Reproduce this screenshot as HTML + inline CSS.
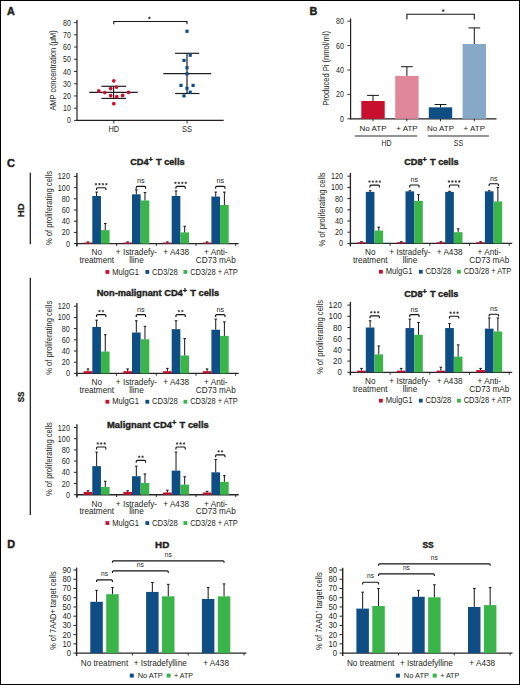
<!DOCTYPE html>
<html><head><meta charset="utf-8"><style>
html,body{margin:0;padding:0;background:#fff;}
body{width:520px;height:685px;overflow:hidden;}
svg{display:block;font-family:"Liberation Sans",sans-serif;}
</style></head><body>
<svg width="520" height="685" viewBox="0 0 520 685" fill="#231f20">
<rect x="0" y="0" width="520" height="685" fill="#fff"/>
<text x="7" y="14.7" font-size="10.8" font-weight="bold" stroke="#231f20" stroke-width="0.45">A</text>
<line x1="77" y1="19.8" x2="77" y2="120.9" stroke="#231f20" stroke-width="1.2"/>
<line x1="76.5" y1="120.4" x2="223.6" y2="120.4" stroke="#231f20" stroke-width="1.2"/>
<line x1="74" y1="120.4" x2="77" y2="120.4" stroke="#231f20" stroke-width="0.9"/>
<text transform="translate(70.8 123.4) scale(0.84 1)" font-size="8.4" text-anchor="end">0</text>
<line x1="74" y1="108.18" x2="77" y2="108.18" stroke="#231f20" stroke-width="0.9"/>
<text transform="translate(70.8 111.18) scale(0.84 1)" font-size="8.4" text-anchor="end">10</text>
<line x1="74" y1="95.95" x2="77" y2="95.95" stroke="#231f20" stroke-width="0.9"/>
<text transform="translate(70.8 98.95) scale(0.84 1)" font-size="8.4" text-anchor="end">20</text>
<line x1="74" y1="83.73" x2="77" y2="83.73" stroke="#231f20" stroke-width="0.9"/>
<text transform="translate(70.8 86.73) scale(0.84 1)" font-size="8.4" text-anchor="end">30</text>
<line x1="74" y1="71.5" x2="77" y2="71.5" stroke="#231f20" stroke-width="0.9"/>
<text transform="translate(70.8 74.5) scale(0.84 1)" font-size="8.4" text-anchor="end">40</text>
<line x1="74" y1="59.28" x2="77" y2="59.28" stroke="#231f20" stroke-width="0.9"/>
<text transform="translate(70.8 62.28) scale(0.84 1)" font-size="8.4" text-anchor="end">50</text>
<line x1="74" y1="47.05" x2="77" y2="47.05" stroke="#231f20" stroke-width="0.9"/>
<text transform="translate(70.8 50.05) scale(0.84 1)" font-size="8.4" text-anchor="end">60</text>
<line x1="74" y1="34.83" x2="77" y2="34.83" stroke="#231f20" stroke-width="0.9"/>
<text transform="translate(70.8 37.83) scale(0.84 1)" font-size="8.4" text-anchor="end">70</text>
<line x1="74" y1="22.6" x2="77" y2="22.6" stroke="#231f20" stroke-width="0.9"/>
<text transform="translate(70.8 25.6) scale(0.84 1)" font-size="8.4" text-anchor="end">80</text>
<line x1="113.8" y1="120.4" x2="113.8" y2="123.4" stroke="#231f20" stroke-width="0.9"/>
<text transform="translate(113.8 132.3) scale(0.88 1)" font-size="8.5" text-anchor="middle">HD</text>
<line x1="187" y1="120.4" x2="187" y2="123.4" stroke="#231f20" stroke-width="0.9"/>
<text transform="translate(187 132.3) scale(0.88 1)" font-size="8.5" text-anchor="middle">SS</text>
<text transform="translate(56.2 70.45) rotate(-90)" font-size="8.5" text-anchor="middle" textLength="80.3" lengthAdjust="spacingAndGlyphs">AMP concentration (μM)</text>
<path d="M113.8 24.2 L113.8 21.5 L187 21.5 L187 24.2" stroke="#151515" stroke-width="1.1" fill="none"/>
<polygon points="149.4,16.6 149.75,17.41 150.64,17.5 149.97,18.09 150.16,18.95 149.4,18.5 148.64,18.95 148.83,18.09 148.16,17.5 149.05,17.41" fill="#231f20" stroke="#231f20" stroke-width="0.35"/>
<line x1="89.2" y1="92.3" x2="137.8" y2="92.3" stroke="#1e1e1e" stroke-width="1.2"/>
<line x1="101.5" y1="86.3" x2="126" y2="86.3" stroke="#1e1e1e" stroke-width="1.2"/>
<line x1="101.5" y1="98.4" x2="126" y2="98.4" stroke="#1e1e1e" stroke-width="1.2"/>
<line x1="113.6" y1="86.3" x2="113.6" y2="98.4" stroke="#1e1e1e" stroke-width="1.2"/>
<circle cx="113.8" cy="80.8" r="1.85" fill="#c8102e"/>
<circle cx="116.6" cy="87.1" r="1.85" fill="#c8102e"/>
<circle cx="110.7" cy="88.6" r="1.85" fill="#c8102e"/>
<circle cx="98.8" cy="90.9" r="1.85" fill="#c8102e"/>
<circle cx="104.8" cy="92.6" r="1.85" fill="#c8102e"/>
<circle cx="128.5" cy="92.3" r="1.85" fill="#c8102e"/>
<circle cx="110.7" cy="95.6" r="1.85" fill="#c8102e"/>
<circle cx="116.7" cy="96.7" r="1.85" fill="#c8102e"/>
<circle cx="122.6" cy="95.4" r="1.85" fill="#c8102e"/>
<circle cx="113.8" cy="103.7" r="1.85" fill="#c8102e"/>
<line x1="163.3" y1="73.6" x2="211.2" y2="73.6" stroke="#1e1e1e" stroke-width="1.2"/>
<line x1="175.1" y1="53.3" x2="199.2" y2="53.3" stroke="#1e1e1e" stroke-width="1.2"/>
<line x1="175.1" y1="93.5" x2="199.4" y2="93.5" stroke="#1e1e1e" stroke-width="1.2"/>
<line x1="187" y1="53.3" x2="187" y2="93.5" stroke="#1e1e1e" stroke-width="1.2"/>
<rect x="185.4" y="29.7" width="3.2" height="3.2" fill="#0f4e85"/>
<rect x="188.6" y="53.6" width="3.2" height="3.2" fill="#0f4e85"/>
<rect x="182.4" y="58.8" width="3.2" height="3.2" fill="#0f4e85"/>
<rect x="185.4" y="66.1" width="3.2" height="3.2" fill="#0f4e85"/>
<rect x="185.4" y="72.2" width="3.2" height="3.2" fill="#0f4e85"/>
<rect x="179.4" y="83.8" width="3.2" height="3.2" fill="#0f4e85"/>
<rect x="191.5" y="83.8" width="3.2" height="3.2" fill="#0f4e85"/>
<rect x="185.4" y="86.7" width="3.2" height="3.2" fill="#0f4e85"/>
<rect x="188.6" y="90.6" width="3.2" height="3.2" fill="#0f4e85"/>
<rect x="182.4" y="94.3" width="3.2" height="3.2" fill="#0f4e85"/>
<text x="309.4" y="15.2" font-size="10.8" font-weight="bold" stroke="#231f20" stroke-width="0.45">B</text>
<line x1="350.6" y1="18.6" x2="350.6" y2="119.3" stroke="#231f20" stroke-width="1.2"/>
<line x1="350.1" y1="118.8" x2="496.5" y2="118.8" stroke="#231f20" stroke-width="1.2"/>
<line x1="347.4" y1="118.8" x2="350.6" y2="118.8" stroke="#231f20" stroke-width="0.9"/>
<text transform="translate(343.9 121.8) scale(0.84 1)" font-size="8.4" text-anchor="end">0</text>
<line x1="347.4" y1="94.4" x2="350.6" y2="94.4" stroke="#231f20" stroke-width="0.9"/>
<text transform="translate(343.9 97.4) scale(0.84 1)" font-size="8.4" text-anchor="end">20</text>
<line x1="347.4" y1="70" x2="350.6" y2="70" stroke="#231f20" stroke-width="0.9"/>
<text transform="translate(343.9 73) scale(0.84 1)" font-size="8.4" text-anchor="end">40</text>
<line x1="347.4" y1="45.6" x2="350.6" y2="45.6" stroke="#231f20" stroke-width="0.9"/>
<text transform="translate(343.9 48.6) scale(0.84 1)" font-size="8.4" text-anchor="end">60</text>
<line x1="347.4" y1="21.2" x2="350.6" y2="21.2" stroke="#231f20" stroke-width="0.9"/>
<text transform="translate(343.9 24.2) scale(0.84 1)" font-size="8.4" text-anchor="end">80</text>
<rect x="361.3" y="100.99" width="23.4" height="17.81" fill="#c8102e"/>
<line x1="373" y1="100.99" x2="373" y2="95.38" stroke="#151515" stroke-width="1"/>
<line x1="367.1" y1="95.38" x2="378.9" y2="95.38" stroke="#151515" stroke-width="1"/>
<line x1="373" y1="118.8" x2="373" y2="121.4" stroke="#231f20" stroke-width="0.9"/>
<rect x="395.2" y="75.86" width="23.4" height="42.94" fill="#e0889a"/>
<line x1="406.9" y1="75.86" x2="406.9" y2="66.71" stroke="#151515" stroke-width="1"/>
<line x1="401" y1="66.71" x2="412.8" y2="66.71" stroke="#151515" stroke-width="1"/>
<line x1="406.9" y1="118.8" x2="406.9" y2="121.4" stroke="#231f20" stroke-width="0.9"/>
<rect x="428.8" y="107.33" width="23.4" height="11.47" fill="#0f4e85"/>
<line x1="440.5" y1="107.33" x2="440.5" y2="104.53" stroke="#151515" stroke-width="1"/>
<line x1="434.6" y1="104.53" x2="446.4" y2="104.53" stroke="#151515" stroke-width="1"/>
<line x1="440.5" y1="118.8" x2="440.5" y2="121.4" stroke="#231f20" stroke-width="0.9"/>
<rect x="462.6" y="44.01" width="23.4" height="74.79" fill="#87a8c6"/>
<line x1="474.3" y1="44.01" x2="474.3" y2="27.91" stroke="#151515" stroke-width="1"/>
<line x1="468.4" y1="27.91" x2="480.2" y2="27.91" stroke="#151515" stroke-width="1"/>
<line x1="474.3" y1="118.8" x2="474.3" y2="121.4" stroke="#231f20" stroke-width="0.9"/>
<text x="373" y="130.5" font-size="8" text-anchor="middle">No ATP</text>
<text x="406.9" y="130.5" font-size="8" text-anchor="middle">+ ATP</text>
<text x="440.5" y="130.5" font-size="8" text-anchor="middle">No ATP</text>
<text x="474.3" y="130.5" font-size="8" text-anchor="middle">+ ATP</text>
<line x1="354.8" y1="136" x2="417.3" y2="136" stroke="#2a2a2a" stroke-width="1.1"/>
<line x1="427.7" y1="136" x2="488.8" y2="136" stroke="#2a2a2a" stroke-width="1.1"/>
<text transform="translate(386.4 145.9) scale(0.74 1)" font-size="9.4" text-anchor="middle">HD</text>
<text transform="translate(458.4 145.9) scale(0.74 1)" font-size="9.4" text-anchor="middle">SS</text>
<text transform="translate(329.4 68.4) rotate(-90)" font-size="8.3" text-anchor="middle" textLength="74.6" lengthAdjust="spacingAndGlyphs">Produced Pi (nmol/ml)</text>
<path d="M406.9 19.6 L406.9 14.3 L474.3 14.3 L474.3 19.6" stroke="#151515" stroke-width="1.1" fill="none"/>
<polygon points="443.2,9.3 443.55,10.11 444.44,10.2 443.77,10.79 443.96,11.65 443.2,11.2 442.44,11.65 442.63,10.79 441.96,10.2 442.85,10.11" fill="#231f20" stroke="#231f20" stroke-width="0.35"/>
<text x="7" y="166.8" font-size="11" font-weight="bold" textLength="8" lengthAdjust="spacingAndGlyphs" stroke="#231f20" stroke-width="0.45">C</text>
<text transform="translate(23.6 210.3) rotate(-90)" font-size="9.6" font-weight="bold" text-anchor="middle" stroke="#231f20" stroke-width="0.3">HD</text>
<line x1="30.3" y1="172.7" x2="30.3" y2="244.2" stroke="#111" stroke-width="1.2"/>
<text transform="translate(24.2 396.9) rotate(-90)" font-size="9.6" font-weight="bold" text-anchor="middle" textLength="10.8" lengthAdjust="spacingAndGlyphs" stroke="#231f20" stroke-width="0.3">SS</text>
<line x1="30.3" y1="277.8" x2="30.3" y2="515" stroke="#111" stroke-width="1.2"/>
<text transform="translate(157.4 164.95) scale(1.01 1)" font-size="9.1" font-weight="bold" text-anchor="middle" stroke="#231f20" stroke-width="0.4">CD4<tspan font-size="7.28" dy="-3.0">+</tspan><tspan dy="3.0" dx="0.6"> T cells</tspan></text>
<line x1="76.9" y1="173.1" x2="76.9" y2="246.6" stroke="#262626" stroke-width="1.35"/>
<line x1="76.4" y1="243.6" x2="238.7" y2="243.6" stroke="#262626" stroke-width="1.35"/>
<line x1="73.9" y1="243.6" x2="76.9" y2="243.6" stroke="#262626" stroke-width="1"/>
<text transform="translate(69.9 246.6) scale(0.84 1)" font-size="8.6" text-anchor="end">0</text>
<line x1="73.9" y1="232.4" x2="76.9" y2="232.4" stroke="#262626" stroke-width="1"/>
<text transform="translate(69.9 235.4) scale(0.84 1)" font-size="8.6" text-anchor="end">20</text>
<line x1="73.9" y1="221.2" x2="76.9" y2="221.2" stroke="#262626" stroke-width="1"/>
<text transform="translate(69.9 224.2) scale(0.84 1)" font-size="8.6" text-anchor="end">40</text>
<line x1="73.9" y1="210" x2="76.9" y2="210" stroke="#262626" stroke-width="1"/>
<text transform="translate(69.9 213) scale(0.84 1)" font-size="8.6" text-anchor="end">60</text>
<line x1="73.9" y1="198.8" x2="76.9" y2="198.8" stroke="#262626" stroke-width="1"/>
<text transform="translate(69.9 201.8) scale(0.84 1)" font-size="8.6" text-anchor="end">80</text>
<line x1="73.9" y1="187.6" x2="76.9" y2="187.6" stroke="#262626" stroke-width="1"/>
<text transform="translate(69.9 190.6) scale(0.84 1)" font-size="8.6" text-anchor="end">100</text>
<line x1="73.9" y1="176.4" x2="76.9" y2="176.4" stroke="#262626" stroke-width="1"/>
<text transform="translate(69.9 179.4) scale(0.84 1)" font-size="8.6" text-anchor="end">120</text>
<line x1="76.9" y1="243.6" x2="76.9" y2="246" stroke="#231f20" stroke-width="0.9"/>
<line x1="116.6" y1="243.6" x2="116.6" y2="246" stroke="#231f20" stroke-width="0.9"/>
<line x1="156.3" y1="243.6" x2="156.3" y2="246" stroke="#231f20" stroke-width="0.9"/>
<line x1="196" y1="243.6" x2="196" y2="246" stroke="#231f20" stroke-width="0.9"/>
<line x1="235.7" y1="243.6" x2="235.7" y2="246" stroke="#231f20" stroke-width="0.9"/>
<text transform="translate(52.1 208) rotate(-90)" font-size="8.6" text-anchor="middle" textLength="74" lengthAdjust="spacingAndGlyphs">% of proliferating cells</text>
<text x="96.75" y="255.4" font-size="8.2" text-anchor="middle">No</text>
<text x="96.75" y="262.9" font-size="8.2" text-anchor="middle">treatment</text>
<rect x="83.65" y="242.48" width="8.65" height="1.12" fill="#c8102e"/>
<rect x="92.3" y="196" width="8.65" height="47.6" fill="#0f4e85"/>
<rect x="100.95" y="230.16" width="8.65" height="13.44" fill="#3bb54a"/>
<line x1="87.98" y1="242.48" x2="87.98" y2="241.92" stroke="#151515" stroke-width="1"/>
<line x1="86.68" y1="241.92" x2="89.28" y2="241.92" stroke="#151515" stroke-width="1"/>
<line x1="96.63" y1="196" x2="96.63" y2="192.08" stroke="#151515" stroke-width="1"/>
<line x1="95.33" y1="192.08" x2="97.93" y2="192.08" stroke="#151515" stroke-width="1"/>
<line x1="105.28" y1="230.16" x2="105.28" y2="223.44" stroke="#151515" stroke-width="1"/>
<line x1="103.98" y1="223.44" x2="106.58" y2="223.44" stroke="#151515" stroke-width="1"/>
<path d="M96.53 190.1 L96.53 188.7 Q96.53 187.7 97.53 187.7 L104.88 187.7 Q105.88 187.7 105.88 188.7 L105.88 190.1" stroke="#151515" stroke-width="1.15" fill="none"/>
<polygon points="96.03,183 96.32,183.8 97.17,183.83 96.5,184.35 96.73,185.17 96.03,184.7 95.32,185.17 95.55,184.35 94.88,183.83 95.73,183.8" fill="#231f20" stroke="#231f20" stroke-width="0.35"/>
<polygon points="99.48,183 99.77,183.8 100.62,183.83 99.95,184.35 100.18,185.17 99.48,184.7 98.77,185.17 99,184.35 98.33,183.83 99.18,183.8" fill="#231f20" stroke="#231f20" stroke-width="0.35"/>
<polygon points="102.93,183 103.22,183.8 104.07,183.83 103.4,184.35 103.63,185.17 102.93,184.7 102.22,185.17 102.45,184.35 101.78,183.83 102.63,183.8" fill="#231f20" stroke="#231f20" stroke-width="0.35"/>
<polygon points="106.38,183 106.67,183.8 107.52,183.83 106.85,184.35 107.08,185.17 106.38,184.7 105.67,185.17 105.9,184.35 105.23,183.83 106.08,183.8" fill="#231f20" stroke="#231f20" stroke-width="0.35"/>
<text x="136.45" y="255.4" font-size="8.2" text-anchor="middle">+ Istradefy-</text>
<text x="136.45" y="262.9" font-size="8.2" text-anchor="middle">lline</text>
<rect x="123.35" y="242.48" width="8.65" height="1.12" fill="#c8102e"/>
<rect x="132" y="194.32" width="8.65" height="49.28" fill="#0f4e85"/>
<rect x="140.65" y="200.48" width="8.65" height="43.12" fill="#3bb54a"/>
<line x1="127.68" y1="242.48" x2="127.68" y2="241.92" stroke="#151515" stroke-width="1"/>
<line x1="126.38" y1="241.92" x2="128.98" y2="241.92" stroke="#151515" stroke-width="1"/>
<line x1="136.32" y1="194.32" x2="136.32" y2="189.84" stroke="#151515" stroke-width="1"/>
<line x1="135.02" y1="189.84" x2="137.62" y2="189.84" stroke="#151515" stroke-width="1"/>
<line x1="144.97" y1="200.48" x2="144.97" y2="192.64" stroke="#151515" stroke-width="1"/>
<line x1="143.67" y1="192.64" x2="146.28" y2="192.64" stroke="#151515" stroke-width="1"/>
<path d="M136.23 188.8 L136.23 187.4 Q136.23 186.4 137.23 186.4 L144.58 186.4 Q145.58 186.4 145.58 187.4 L145.58 188.8" stroke="#151515" stroke-width="1.15" fill="none"/>
<text x="140.9" y="183.3" font-size="7.9" text-anchor="middle" textLength="7.6" lengthAdjust="spacingAndGlyphs">ns</text>
<text x="176.15" y="255.4" font-size="8.2" text-anchor="middle">+ A438</text>
<rect x="163.05" y="242.48" width="8.65" height="1.12" fill="#c8102e"/>
<rect x="171.7" y="196" width="8.65" height="47.6" fill="#0f4e85"/>
<rect x="180.35" y="232.4" width="8.65" height="11.2" fill="#3bb54a"/>
<line x1="167.38" y1="242.48" x2="167.38" y2="241.92" stroke="#151515" stroke-width="1"/>
<line x1="166.07" y1="241.92" x2="168.68" y2="241.92" stroke="#151515" stroke-width="1"/>
<line x1="176.03" y1="196" x2="176.03" y2="190.96" stroke="#151515" stroke-width="1"/>
<line x1="174.72" y1="190.96" x2="177.33" y2="190.96" stroke="#151515" stroke-width="1"/>
<line x1="184.68" y1="232.4" x2="184.68" y2="226.24" stroke="#151515" stroke-width="1"/>
<line x1="183.38" y1="226.24" x2="185.98" y2="226.24" stroke="#151515" stroke-width="1"/>
<path d="M175.93 188.8 L175.93 187.4 Q175.93 186.4 176.93 186.4 L184.28 186.4 Q185.28 186.4 185.28 187.4 L185.28 188.8" stroke="#151515" stroke-width="1.15" fill="none"/>
<polygon points="175.43,181.7 175.72,182.5 176.57,182.53 175.9,183.05 176.13,183.87 175.43,183.4 174.72,183.87 174.95,183.05 174.28,182.53 175.13,182.5" fill="#231f20" stroke="#231f20" stroke-width="0.35"/>
<polygon points="178.88,181.7 179.17,182.5 180.02,182.53 179.35,183.05 179.58,183.87 178.88,183.4 178.17,183.87 178.4,183.05 177.73,182.53 178.58,182.5" fill="#231f20" stroke="#231f20" stroke-width="0.35"/>
<polygon points="182.33,181.7 182.62,182.5 183.47,182.53 182.8,183.05 183.03,183.87 182.33,183.4 181.62,183.87 181.85,183.05 181.18,182.53 182.03,182.5" fill="#231f20" stroke="#231f20" stroke-width="0.35"/>
<polygon points="185.78,181.7 186.07,182.5 186.92,182.53 186.25,183.05 186.48,183.87 185.78,183.4 185.07,183.87 185.3,183.05 184.63,182.53 185.48,182.5" fill="#231f20" stroke="#231f20" stroke-width="0.35"/>
<text x="215.85" y="255.4" font-size="8.2" text-anchor="middle">+ Anti-</text>
<text x="215.85" y="262.9" font-size="8.2" text-anchor="middle">CD73 mAb</text>
<rect x="202.75" y="242.48" width="8.65" height="1.12" fill="#c8102e"/>
<rect x="211.4" y="196.56" width="8.65" height="47.04" fill="#0f4e85"/>
<rect x="220.05" y="204.96" width="8.65" height="38.64" fill="#3bb54a"/>
<line x1="207.07" y1="242.48" x2="207.07" y2="241.92" stroke="#151515" stroke-width="1"/>
<line x1="205.77" y1="241.92" x2="208.38" y2="241.92" stroke="#151515" stroke-width="1"/>
<line x1="215.72" y1="196.56" x2="215.72" y2="192.08" stroke="#151515" stroke-width="1"/>
<line x1="214.42" y1="192.08" x2="217.03" y2="192.08" stroke="#151515" stroke-width="1"/>
<line x1="224.38" y1="204.96" x2="224.38" y2="192.08" stroke="#151515" stroke-width="1"/>
<line x1="223.07" y1="192.08" x2="225.68" y2="192.08" stroke="#151515" stroke-width="1"/>
<path d="M215.62 188.8 L215.62 187.4 Q215.62 186.4 216.62 186.4 L223.97 186.4 Q224.97 186.4 224.97 187.4 L224.97 188.8" stroke="#151515" stroke-width="1.15" fill="none"/>
<text x="220.3" y="183.3" font-size="7.9" text-anchor="middle" textLength="7.6" lengthAdjust="spacingAndGlyphs">ns</text>
<rect x="105.5" y="270.05" width="3.8" height="3.8" fill="#c8102e"/>
<text x="112.3" y="274.5" font-size="8.2" textLength="26.6" lengthAdjust="spacingAndGlyphs">MulgG1</text>
<rect x="145.4" y="270.05" width="3.8" height="3.8" fill="#0f4e85"/>
<text x="151.9" y="274.5" font-size="8.2" textLength="26" lengthAdjust="spacingAndGlyphs">CD3/28</text>
<rect x="183.5" y="270.05" width="3.8" height="3.8" fill="#3bb54a"/>
<text x="190.2" y="274.5" font-size="8.2" textLength="47.7" lengthAdjust="spacingAndGlyphs">CD3/28 + ATP</text>
<text transform="translate(431.4 165.15) scale(1.01 1)" font-size="9.1" font-weight="bold" text-anchor="middle" stroke="#231f20" stroke-width="0.4">CD8<tspan font-size="7.28" dy="-3.0">+</tspan><tspan dy="3.0" dx="0.6"> T cells</tspan></text>
<line x1="350.4" y1="172.9" x2="350.4" y2="246.4" stroke="#262626" stroke-width="1.35"/>
<line x1="349.9" y1="243.4" x2="512.2" y2="243.4" stroke="#262626" stroke-width="1.35"/>
<line x1="347.4" y1="243.4" x2="350.4" y2="243.4" stroke="#262626" stroke-width="1"/>
<text transform="translate(343.1 246.4) scale(0.84 1)" font-size="8.6" text-anchor="end">0</text>
<line x1="347.4" y1="232.2" x2="350.4" y2="232.2" stroke="#262626" stroke-width="1"/>
<text transform="translate(343.1 235.2) scale(0.84 1)" font-size="8.6" text-anchor="end">20</text>
<line x1="347.4" y1="221" x2="350.4" y2="221" stroke="#262626" stroke-width="1"/>
<text transform="translate(343.1 224) scale(0.84 1)" font-size="8.6" text-anchor="end">40</text>
<line x1="347.4" y1="209.8" x2="350.4" y2="209.8" stroke="#262626" stroke-width="1"/>
<text transform="translate(343.1 212.8) scale(0.84 1)" font-size="8.6" text-anchor="end">60</text>
<line x1="347.4" y1="198.6" x2="350.4" y2="198.6" stroke="#262626" stroke-width="1"/>
<text transform="translate(343.1 201.6) scale(0.84 1)" font-size="8.6" text-anchor="end">80</text>
<line x1="347.4" y1="187.4" x2="350.4" y2="187.4" stroke="#262626" stroke-width="1"/>
<text transform="translate(343.1 190.4) scale(0.84 1)" font-size="8.6" text-anchor="end">100</text>
<line x1="347.4" y1="176.2" x2="350.4" y2="176.2" stroke="#262626" stroke-width="1"/>
<text transform="translate(343.1 179.2) scale(0.84 1)" font-size="8.6" text-anchor="end">120</text>
<line x1="350.4" y1="243.4" x2="350.4" y2="245.8" stroke="#231f20" stroke-width="0.9"/>
<line x1="390.1" y1="243.4" x2="390.1" y2="245.8" stroke="#231f20" stroke-width="0.9"/>
<line x1="429.8" y1="243.4" x2="429.8" y2="245.8" stroke="#231f20" stroke-width="0.9"/>
<line x1="469.5" y1="243.4" x2="469.5" y2="245.8" stroke="#231f20" stroke-width="0.9"/>
<line x1="509.2" y1="243.4" x2="509.2" y2="245.8" stroke="#231f20" stroke-width="0.9"/>
<text transform="translate(324.6 209.4) rotate(-90)" font-size="8.6" text-anchor="middle" textLength="74" lengthAdjust="spacingAndGlyphs">% of proliferating cells</text>
<text x="370.25" y="255.2" font-size="8.2" text-anchor="middle">No</text>
<text x="370.25" y="262.7" font-size="8.2" text-anchor="middle">treatment</text>
<rect x="357.15" y="242.28" width="8.65" height="1.12" fill="#c8102e"/>
<rect x="365.8" y="191.88" width="8.65" height="51.52" fill="#0f4e85"/>
<rect x="374.45" y="230.52" width="8.65" height="12.88" fill="#3bb54a"/>
<line x1="361.47" y1="242.28" x2="361.47" y2="241.72" stroke="#151515" stroke-width="1"/>
<line x1="360.17" y1="241.72" x2="362.77" y2="241.72" stroke="#151515" stroke-width="1"/>
<line x1="370.12" y1="191.88" x2="370.12" y2="190.76" stroke="#151515" stroke-width="1"/>
<line x1="368.82" y1="190.76" x2="371.42" y2="190.76" stroke="#151515" stroke-width="1"/>
<line x1="378.77" y1="230.52" x2="378.77" y2="227.16" stroke="#151515" stroke-width="1"/>
<line x1="377.47" y1="227.16" x2="380.07" y2="227.16" stroke="#151515" stroke-width="1"/>
<path d="M370.02 187.5 L370.02 186.1 Q370.02 185.1 371.02 185.1 L378.38 185.1 Q379.38 185.1 379.38 186.1 L379.38 187.5" stroke="#151515" stroke-width="1.15" fill="none"/>
<polygon points="369.52,180.4 369.82,181.2 370.67,181.23 370,181.75 370.23,182.57 369.52,182.1 368.82,182.57 369.05,181.75 368.38,181.23 369.23,181.2" fill="#231f20" stroke="#231f20" stroke-width="0.35"/>
<polygon points="372.97,180.4 373.27,181.2 374.12,181.23 373.45,181.75 373.68,182.57 372.97,182.1 372.27,182.57 372.5,181.75 371.83,181.23 372.68,181.2" fill="#231f20" stroke="#231f20" stroke-width="0.35"/>
<polygon points="376.42,180.4 376.72,181.2 377.57,181.23 376.9,181.75 377.13,182.57 376.42,182.1 375.72,182.57 375.95,181.75 375.28,181.23 376.13,181.2" fill="#231f20" stroke="#231f20" stroke-width="0.35"/>
<polygon points="379.88,180.4 380.17,181.2 381.02,181.23 380.35,181.75 380.58,182.57 379.88,182.1 379.17,182.57 379.4,181.75 378.73,181.23 379.58,181.2" fill="#231f20" stroke="#231f20" stroke-width="0.35"/>
<text x="409.95" y="255.2" font-size="8.2" text-anchor="middle">+ Istradefy-</text>
<text x="409.95" y="262.7" font-size="8.2" text-anchor="middle">lline</text>
<rect x="396.85" y="242.28" width="8.65" height="1.12" fill="#c8102e"/>
<rect x="405.5" y="191.32" width="8.65" height="52.08" fill="#0f4e85"/>
<rect x="414.15" y="200.84" width="8.65" height="42.56" fill="#3bb54a"/>
<line x1="401.17" y1="242.28" x2="401.17" y2="241.72" stroke="#151515" stroke-width="1"/>
<line x1="399.87" y1="241.72" x2="402.47" y2="241.72" stroke="#151515" stroke-width="1"/>
<line x1="409.82" y1="191.32" x2="409.82" y2="190.76" stroke="#151515" stroke-width="1"/>
<line x1="408.52" y1="190.76" x2="411.12" y2="190.76" stroke="#151515" stroke-width="1"/>
<line x1="418.47" y1="200.84" x2="418.47" y2="194.68" stroke="#151515" stroke-width="1"/>
<line x1="417.17" y1="194.68" x2="419.77" y2="194.68" stroke="#151515" stroke-width="1"/>
<path d="M409.72 187.4 L409.72 186 Q409.72 185 410.72 185 L418.07 185 Q419.07 185 419.07 186 L419.07 187.4" stroke="#151515" stroke-width="1.15" fill="none"/>
<text x="414.4" y="181.9" font-size="7.9" text-anchor="middle" textLength="7.6" lengthAdjust="spacingAndGlyphs">ns</text>
<text x="449.65" y="255.2" font-size="8.2" text-anchor="middle">+ A438</text>
<rect x="436.55" y="242.28" width="8.65" height="1.12" fill="#c8102e"/>
<rect x="445.2" y="191.88" width="8.65" height="51.52" fill="#0f4e85"/>
<rect x="453.85" y="232.2" width="8.65" height="11.2" fill="#3bb54a"/>
<line x1="440.87" y1="242.28" x2="440.87" y2="241.72" stroke="#151515" stroke-width="1"/>
<line x1="439.57" y1="241.72" x2="442.17" y2="241.72" stroke="#151515" stroke-width="1"/>
<line x1="449.52" y1="191.88" x2="449.52" y2="191.32" stroke="#151515" stroke-width="1"/>
<line x1="448.22" y1="191.32" x2="450.82" y2="191.32" stroke="#151515" stroke-width="1"/>
<line x1="458.17" y1="232.2" x2="458.17" y2="228.84" stroke="#151515" stroke-width="1"/>
<line x1="456.87" y1="228.84" x2="459.47" y2="228.84" stroke="#151515" stroke-width="1"/>
<path d="M449.42 187.4 L449.42 186 Q449.42 185 450.42 185 L457.77 185 Q458.77 185 458.77 186 L458.77 187.4" stroke="#151515" stroke-width="1.15" fill="none"/>
<polygon points="448.92,180.3 449.22,181.1 450.07,181.13 449.4,181.65 449.63,182.47 448.92,182 448.22,182.47 448.45,181.65 447.78,181.13 448.63,181.1" fill="#231f20" stroke="#231f20" stroke-width="0.35"/>
<polygon points="452.37,180.3 452.67,181.1 453.52,181.13 452.85,181.65 453.08,182.47 452.37,182 451.67,182.47 451.9,181.65 451.23,181.13 452.08,181.1" fill="#231f20" stroke="#231f20" stroke-width="0.35"/>
<polygon points="455.82,180.3 456.12,181.1 456.97,181.13 456.3,181.65 456.53,182.47 455.82,182 455.12,182.47 455.35,181.65 454.68,181.13 455.53,181.1" fill="#231f20" stroke="#231f20" stroke-width="0.35"/>
<polygon points="459.27,180.3 459.57,181.1 460.42,181.13 459.75,181.65 459.98,182.47 459.27,182 458.57,182.47 458.8,181.65 458.13,181.13 458.98,181.1" fill="#231f20" stroke="#231f20" stroke-width="0.35"/>
<text x="489.35" y="255.2" font-size="8.2" text-anchor="middle">+ Anti-</text>
<text x="489.35" y="262.7" font-size="8.2" text-anchor="middle">CD73 mAb</text>
<rect x="476.25" y="242.28" width="8.65" height="1.12" fill="#c8102e"/>
<rect x="484.9" y="191.32" width="8.65" height="52.08" fill="#0f4e85"/>
<rect x="493.55" y="201.4" width="8.65" height="42" fill="#3bb54a"/>
<line x1="480.57" y1="242.28" x2="480.57" y2="241.72" stroke="#151515" stroke-width="1"/>
<line x1="479.27" y1="241.72" x2="481.88" y2="241.72" stroke="#151515" stroke-width="1"/>
<line x1="489.22" y1="191.32" x2="489.22" y2="190.76" stroke="#151515" stroke-width="1"/>
<line x1="487.92" y1="190.76" x2="490.52" y2="190.76" stroke="#151515" stroke-width="1"/>
<line x1="497.87" y1="201.4" x2="497.87" y2="187.4" stroke="#151515" stroke-width="1"/>
<line x1="496.57" y1="187.4" x2="499.17" y2="187.4" stroke="#151515" stroke-width="1"/>
<path d="M489.12 186.1 L489.12 184.7 Q489.12 183.7 490.12 183.7 L497.48 183.7 Q498.48 183.7 498.48 184.7 L498.48 186.1" stroke="#151515" stroke-width="1.15" fill="none"/>
<text x="493.8" y="180.6" font-size="7.9" text-anchor="middle" textLength="7.6" lengthAdjust="spacingAndGlyphs">ns</text>
<rect x="379" y="269.85" width="3.8" height="3.8" fill="#c8102e"/>
<text x="385.8" y="274.3" font-size="8.2" textLength="26.6" lengthAdjust="spacingAndGlyphs">MulgG1</text>
<rect x="418.9" y="269.85" width="3.8" height="3.8" fill="#0f4e85"/>
<text x="425.4" y="274.3" font-size="8.2" textLength="26" lengthAdjust="spacingAndGlyphs">CD3/28</text>
<rect x="457" y="269.85" width="3.8" height="3.8" fill="#3bb54a"/>
<text x="463.7" y="274.3" font-size="8.2" textLength="47.7" lengthAdjust="spacingAndGlyphs">CD3/28 + ATP</text>
<text transform="translate(157.9 296.15) scale(1.02 1)" font-size="9.1" font-weight="bold" text-anchor="middle" stroke="#231f20" stroke-width="0.4">Non-malignant CD4<tspan font-size="7.28" dy="-3.0">+</tspan><tspan dy="3.0" dx="0.6"> T cells</tspan></text>
<line x1="76.9" y1="302.9" x2="76.9" y2="376.4" stroke="#262626" stroke-width="1.35"/>
<line x1="76.4" y1="373.4" x2="238.7" y2="373.4" stroke="#262626" stroke-width="1.35"/>
<line x1="73.9" y1="373.4" x2="76.9" y2="373.4" stroke="#262626" stroke-width="1"/>
<text transform="translate(69.9 376.4) scale(0.84 1)" font-size="8.6" text-anchor="end">0</text>
<line x1="73.9" y1="362.2" x2="76.9" y2="362.2" stroke="#262626" stroke-width="1"/>
<text transform="translate(69.9 365.2) scale(0.84 1)" font-size="8.6" text-anchor="end">20</text>
<line x1="73.9" y1="351" x2="76.9" y2="351" stroke="#262626" stroke-width="1"/>
<text transform="translate(69.9 354) scale(0.84 1)" font-size="8.6" text-anchor="end">40</text>
<line x1="73.9" y1="339.8" x2="76.9" y2="339.8" stroke="#262626" stroke-width="1"/>
<text transform="translate(69.9 342.8) scale(0.84 1)" font-size="8.6" text-anchor="end">60</text>
<line x1="73.9" y1="328.6" x2="76.9" y2="328.6" stroke="#262626" stroke-width="1"/>
<text transform="translate(69.9 331.6) scale(0.84 1)" font-size="8.6" text-anchor="end">80</text>
<line x1="73.9" y1="317.4" x2="76.9" y2="317.4" stroke="#262626" stroke-width="1"/>
<text transform="translate(69.9 320.4) scale(0.84 1)" font-size="8.6" text-anchor="end">100</text>
<line x1="73.9" y1="306.2" x2="76.9" y2="306.2" stroke="#262626" stroke-width="1"/>
<text transform="translate(69.9 309.2) scale(0.84 1)" font-size="8.6" text-anchor="end">120</text>
<line x1="76.9" y1="373.4" x2="76.9" y2="375.8" stroke="#231f20" stroke-width="0.9"/>
<line x1="116.6" y1="373.4" x2="116.6" y2="375.8" stroke="#231f20" stroke-width="0.9"/>
<line x1="156.3" y1="373.4" x2="156.3" y2="375.8" stroke="#231f20" stroke-width="0.9"/>
<line x1="196" y1="373.4" x2="196" y2="375.8" stroke="#231f20" stroke-width="0.9"/>
<line x1="235.7" y1="373.4" x2="235.7" y2="375.8" stroke="#231f20" stroke-width="0.9"/>
<text transform="translate(52.1 337.8) rotate(-90)" font-size="8.6" text-anchor="middle" textLength="74" lengthAdjust="spacingAndGlyphs">% of proliferating cells</text>
<text x="96.75" y="385.2" font-size="8.2" text-anchor="middle">No</text>
<text x="96.75" y="392.7" font-size="8.2" text-anchor="middle">treatment</text>
<rect x="83.65" y="371.16" width="8.65" height="2.24" fill="#c8102e"/>
<rect x="92.3" y="326.92" width="8.65" height="46.48" fill="#0f4e85"/>
<rect x="100.95" y="351.56" width="8.65" height="21.84" fill="#3bb54a"/>
<line x1="87.98" y1="371.16" x2="87.98" y2="368.92" stroke="#151515" stroke-width="1"/>
<line x1="86.68" y1="368.92" x2="89.28" y2="368.92" stroke="#151515" stroke-width="1"/>
<line x1="96.63" y1="326.92" x2="96.63" y2="320.2" stroke="#151515" stroke-width="1"/>
<line x1="95.33" y1="320.2" x2="97.93" y2="320.2" stroke="#151515" stroke-width="1"/>
<line x1="105.28" y1="351.56" x2="105.28" y2="334.76" stroke="#151515" stroke-width="1"/>
<line x1="103.98" y1="334.76" x2="106.58" y2="334.76" stroke="#151515" stroke-width="1"/>
<path d="M96.53 317 L96.53 315.6 Q96.53 314.6 97.53 314.6 L104.88 314.6 Q105.88 314.6 105.88 315.6 L105.88 317" stroke="#151515" stroke-width="1.15" fill="none"/>
<polygon points="99.48,309.9 99.77,310.7 100.62,310.73 99.95,311.25 100.18,312.07 99.48,311.6 98.77,312.07 99,311.25 98.33,310.73 99.18,310.7" fill="#231f20" stroke="#231f20" stroke-width="0.35"/>
<polygon points="102.93,309.9 103.22,310.7 104.07,310.73 103.4,311.25 103.63,312.07 102.93,311.6 102.22,312.07 102.45,311.25 101.78,310.73 102.63,310.7" fill="#231f20" stroke="#231f20" stroke-width="0.35"/>
<text x="136.45" y="385.2" font-size="8.2" text-anchor="middle">+ Istradefy-</text>
<text x="136.45" y="392.7" font-size="8.2" text-anchor="middle">lline</text>
<rect x="123.35" y="371.16" width="8.65" height="2.24" fill="#c8102e"/>
<rect x="132" y="332.52" width="8.65" height="40.88" fill="#0f4e85"/>
<rect x="140.65" y="339.24" width="8.65" height="34.16" fill="#3bb54a"/>
<line x1="127.68" y1="371.16" x2="127.68" y2="368.92" stroke="#151515" stroke-width="1"/>
<line x1="126.38" y1="368.92" x2="128.98" y2="368.92" stroke="#151515" stroke-width="1"/>
<line x1="136.32" y1="332.52" x2="136.32" y2="320.76" stroke="#151515" stroke-width="1"/>
<line x1="135.02" y1="320.76" x2="137.62" y2="320.76" stroke="#151515" stroke-width="1"/>
<line x1="144.97" y1="339.24" x2="144.97" y2="326.36" stroke="#151515" stroke-width="1"/>
<line x1="143.67" y1="326.36" x2="146.28" y2="326.36" stroke="#151515" stroke-width="1"/>
<path d="M136.23 317 L136.23 315.6 Q136.23 314.6 137.23 314.6 L144.58 314.6 Q145.58 314.6 145.58 315.6 L145.58 317" stroke="#151515" stroke-width="1.15" fill="none"/>
<text x="140.9" y="311.5" font-size="7.9" text-anchor="middle" textLength="7.6" lengthAdjust="spacingAndGlyphs">ns</text>
<text x="176.15" y="385.2" font-size="8.2" text-anchor="middle">+ A438</text>
<rect x="163.05" y="371.16" width="8.65" height="2.24" fill="#c8102e"/>
<rect x="171.7" y="329.16" width="8.65" height="44.24" fill="#0f4e85"/>
<rect x="180.35" y="355.48" width="8.65" height="17.92" fill="#3bb54a"/>
<line x1="167.38" y1="371.16" x2="167.38" y2="368.36" stroke="#151515" stroke-width="1"/>
<line x1="166.07" y1="368.36" x2="168.68" y2="368.36" stroke="#151515" stroke-width="1"/>
<line x1="176.03" y1="329.16" x2="176.03" y2="320.76" stroke="#151515" stroke-width="1"/>
<line x1="174.72" y1="320.76" x2="177.33" y2="320.76" stroke="#151515" stroke-width="1"/>
<line x1="184.68" y1="355.48" x2="184.68" y2="338.68" stroke="#151515" stroke-width="1"/>
<line x1="183.38" y1="338.68" x2="185.98" y2="338.68" stroke="#151515" stroke-width="1"/>
<path d="M175.93 317 L175.93 315.6 Q175.93 314.6 176.93 314.6 L184.28 314.6 Q185.28 314.6 185.28 315.6 L185.28 317" stroke="#151515" stroke-width="1.15" fill="none"/>
<polygon points="178.88,309.9 179.17,310.7 180.02,310.73 179.35,311.25 179.58,312.07 178.88,311.6 178.17,312.07 178.4,311.25 177.73,310.73 178.58,310.7" fill="#231f20" stroke="#231f20" stroke-width="0.35"/>
<polygon points="182.33,309.9 182.62,310.7 183.47,310.73 182.8,311.25 183.03,312.07 182.33,311.6 181.62,312.07 181.85,311.25 181.18,310.73 182.03,310.7" fill="#231f20" stroke="#231f20" stroke-width="0.35"/>
<text x="215.85" y="385.2" font-size="8.2" text-anchor="middle">+ Anti-</text>
<text x="215.85" y="392.7" font-size="8.2" text-anchor="middle">CD73 mAb</text>
<rect x="202.75" y="371.16" width="8.65" height="2.24" fill="#c8102e"/>
<rect x="211.4" y="329.72" width="8.65" height="43.68" fill="#0f4e85"/>
<rect x="220.05" y="335.88" width="8.65" height="37.52" fill="#3bb54a"/>
<line x1="207.07" y1="371.16" x2="207.07" y2="368.92" stroke="#151515" stroke-width="1"/>
<line x1="205.77" y1="368.92" x2="208.38" y2="368.92" stroke="#151515" stroke-width="1"/>
<line x1="215.72" y1="329.72" x2="215.72" y2="319.08" stroke="#151515" stroke-width="1"/>
<line x1="214.42" y1="319.08" x2="217.03" y2="319.08" stroke="#151515" stroke-width="1"/>
<line x1="224.38" y1="335.88" x2="224.38" y2="321.88" stroke="#151515" stroke-width="1"/>
<line x1="223.07" y1="321.88" x2="225.68" y2="321.88" stroke="#151515" stroke-width="1"/>
<path d="M215.62 317 L215.62 315.6 Q215.62 314.6 216.62 314.6 L223.97 314.6 Q224.97 314.6 224.97 315.6 L224.97 317" stroke="#151515" stroke-width="1.15" fill="none"/>
<text x="220.3" y="311.5" font-size="7.9" text-anchor="middle" textLength="7.6" lengthAdjust="spacingAndGlyphs">ns</text>
<rect x="105.5" y="399.85" width="3.8" height="3.8" fill="#c8102e"/>
<text x="112.3" y="404.3" font-size="8.2" textLength="26.6" lengthAdjust="spacingAndGlyphs">MulgG1</text>
<rect x="145.4" y="399.85" width="3.8" height="3.8" fill="#0f4e85"/>
<text x="151.9" y="404.3" font-size="8.2" textLength="26" lengthAdjust="spacingAndGlyphs">CD3/28</text>
<rect x="183.5" y="399.85" width="3.8" height="3.8" fill="#3bb54a"/>
<text x="190.2" y="404.3" font-size="8.2" textLength="47.7" lengthAdjust="spacingAndGlyphs">CD3/28 + ATP</text>
<text transform="translate(431.3 296.55) scale(1.01 1)" font-size="9.1" font-weight="bold" text-anchor="middle" stroke="#231f20" stroke-width="0.4">CD8<tspan font-size="7.28" dy="-3.0">+</tspan><tspan dy="3.0" dx="0.6"> T cells</tspan></text>
<line x1="350.4" y1="301.8" x2="350.4" y2="375.3" stroke="#262626" stroke-width="1.35"/>
<line x1="349.9" y1="372.3" x2="512.2" y2="372.3" stroke="#262626" stroke-width="1.35"/>
<line x1="347.4" y1="372.3" x2="350.4" y2="372.3" stroke="#262626" stroke-width="1"/>
<text transform="translate(341.8 375.3) scale(0.92 1)" font-size="8.6" text-anchor="end">0</text>
<line x1="347.4" y1="361.1" x2="350.4" y2="361.1" stroke="#262626" stroke-width="1"/>
<text transform="translate(341.8 364.1) scale(0.92 1)" font-size="8.6" text-anchor="end">20</text>
<line x1="347.4" y1="349.9" x2="350.4" y2="349.9" stroke="#262626" stroke-width="1"/>
<text transform="translate(341.8 352.9) scale(0.92 1)" font-size="8.6" text-anchor="end">40</text>
<line x1="347.4" y1="338.7" x2="350.4" y2="338.7" stroke="#262626" stroke-width="1"/>
<text transform="translate(341.8 341.7) scale(0.92 1)" font-size="8.6" text-anchor="end">60</text>
<line x1="347.4" y1="327.5" x2="350.4" y2="327.5" stroke="#262626" stroke-width="1"/>
<text transform="translate(341.8 330.5) scale(0.92 1)" font-size="8.6" text-anchor="end">80</text>
<line x1="347.4" y1="316.3" x2="350.4" y2="316.3" stroke="#262626" stroke-width="1"/>
<text transform="translate(341.8 319.3) scale(0.92 1)" font-size="8.6" text-anchor="end">100</text>
<line x1="347.4" y1="305.1" x2="350.4" y2="305.1" stroke="#262626" stroke-width="1"/>
<text transform="translate(341.8 308.1) scale(0.92 1)" font-size="8.6" text-anchor="end">120</text>
<line x1="350.4" y1="372.3" x2="350.4" y2="374.7" stroke="#231f20" stroke-width="0.9"/>
<line x1="390.1" y1="372.3" x2="390.1" y2="374.7" stroke="#231f20" stroke-width="0.9"/>
<line x1="429.8" y1="372.3" x2="429.8" y2="374.7" stroke="#231f20" stroke-width="0.9"/>
<line x1="469.5" y1="372.3" x2="469.5" y2="374.7" stroke="#231f20" stroke-width="0.9"/>
<line x1="509.2" y1="372.3" x2="509.2" y2="374.7" stroke="#231f20" stroke-width="0.9"/>
<text transform="translate(322.8 337) rotate(-90)" font-size="8.6" text-anchor="middle" textLength="74" lengthAdjust="spacingAndGlyphs">% of proliferating cells</text>
<text x="370.25" y="384.1" font-size="8.2" text-anchor="middle">No</text>
<text x="370.25" y="391.6" font-size="8.2" text-anchor="middle">treatment</text>
<rect x="357.15" y="370.62" width="8.65" height="1.68" fill="#c8102e"/>
<rect x="365.8" y="327.5" width="8.65" height="44.8" fill="#0f4e85"/>
<rect x="374.45" y="354.38" width="8.65" height="17.92" fill="#3bb54a"/>
<line x1="361.47" y1="370.62" x2="361.47" y2="368.38" stroke="#151515" stroke-width="1"/>
<line x1="360.17" y1="368.38" x2="362.77" y2="368.38" stroke="#151515" stroke-width="1"/>
<line x1="370.12" y1="327.5" x2="370.12" y2="320.78" stroke="#151515" stroke-width="1"/>
<line x1="368.82" y1="320.78" x2="371.42" y2="320.78" stroke="#151515" stroke-width="1"/>
<line x1="378.77" y1="354.38" x2="378.77" y2="345.98" stroke="#151515" stroke-width="1"/>
<line x1="377.47" y1="345.98" x2="380.07" y2="345.98" stroke="#151515" stroke-width="1"/>
<path d="M370.02 318.2 L370.02 316.8 Q370.02 315.8 371.02 315.8 L378.38 315.8 Q379.38 315.8 379.38 316.8 L379.38 318.2" stroke="#151515" stroke-width="1.15" fill="none"/>
<polygon points="371.25,311.1 371.54,311.9 372.39,311.93 371.73,312.45 371.96,313.27 371.25,312.8 370.54,313.27 370.77,312.45 370.11,311.93 370.96,311.9" fill="#231f20" stroke="#231f20" stroke-width="0.35"/>
<polygon points="374.7,311.1 374.99,311.9 375.84,311.93 375.18,312.45 375.41,313.27 374.7,312.8 373.99,313.27 374.22,312.45 373.56,311.93 374.41,311.9" fill="#231f20" stroke="#231f20" stroke-width="0.35"/>
<polygon points="378.15,311.1 378.44,311.9 379.29,311.93 378.63,312.45 378.86,313.27 378.15,312.8 377.44,313.27 377.67,312.45 377.01,311.93 377.86,311.9" fill="#231f20" stroke="#231f20" stroke-width="0.35"/>
<text x="409.95" y="384.1" font-size="8.2" text-anchor="middle">+ Istradefy-</text>
<text x="409.95" y="391.6" font-size="8.2" text-anchor="middle">lline</text>
<rect x="396.85" y="370.62" width="8.65" height="1.68" fill="#c8102e"/>
<rect x="405.5" y="328.06" width="8.65" height="44.24" fill="#0f4e85"/>
<rect x="414.15" y="334.78" width="8.65" height="37.52" fill="#3bb54a"/>
<line x1="401.17" y1="370.62" x2="401.17" y2="368.38" stroke="#151515" stroke-width="1"/>
<line x1="399.87" y1="368.38" x2="402.47" y2="368.38" stroke="#151515" stroke-width="1"/>
<line x1="409.82" y1="328.06" x2="409.82" y2="319.1" stroke="#151515" stroke-width="1"/>
<line x1="408.52" y1="319.1" x2="411.12" y2="319.1" stroke="#151515" stroke-width="1"/>
<line x1="418.47" y1="334.78" x2="418.47" y2="322.46" stroke="#151515" stroke-width="1"/>
<line x1="417.17" y1="322.46" x2="419.77" y2="322.46" stroke="#151515" stroke-width="1"/>
<path d="M409.72 317 L409.72 315.6 Q409.72 314.6 410.72 314.6 L418.07 314.6 Q419.07 314.6 419.07 315.6 L419.07 317" stroke="#151515" stroke-width="1.15" fill="none"/>
<text x="414.4" y="311.5" font-size="7.9" text-anchor="middle" textLength="7.6" lengthAdjust="spacingAndGlyphs">ns</text>
<text x="449.65" y="384.1" font-size="8.2" text-anchor="middle">+ A438</text>
<rect x="436.55" y="370.62" width="8.65" height="1.68" fill="#c8102e"/>
<rect x="445.2" y="328.06" width="8.65" height="44.24" fill="#0f4e85"/>
<rect x="453.85" y="356.62" width="8.65" height="15.68" fill="#3bb54a"/>
<line x1="440.87" y1="370.62" x2="440.87" y2="367.26" stroke="#151515" stroke-width="1"/>
<line x1="439.57" y1="367.26" x2="442.17" y2="367.26" stroke="#151515" stroke-width="1"/>
<line x1="449.52" y1="328.06" x2="449.52" y2="323.58" stroke="#151515" stroke-width="1"/>
<line x1="448.22" y1="323.58" x2="450.82" y2="323.58" stroke="#151515" stroke-width="1"/>
<line x1="458.17" y1="356.62" x2="458.17" y2="344.86" stroke="#151515" stroke-width="1"/>
<line x1="456.87" y1="344.86" x2="459.47" y2="344.86" stroke="#151515" stroke-width="1"/>
<path d="M449.42 318.6 L449.42 317.2 Q449.42 316.2 450.42 316.2 L457.77 316.2 Q458.77 316.2 458.77 317.2 L458.77 318.6" stroke="#151515" stroke-width="1.15" fill="none"/>
<polygon points="450.65,311.5 450.94,312.3 451.79,312.33 451.13,312.85 451.36,313.67 450.65,313.2 449.94,313.67 450.17,312.85 449.51,312.33 450.36,312.3" fill="#231f20" stroke="#231f20" stroke-width="0.35"/>
<polygon points="454.1,311.5 454.39,312.3 455.24,312.33 454.58,312.85 454.81,313.67 454.1,313.2 453.39,313.67 453.62,312.85 452.96,312.33 453.81,312.3" fill="#231f20" stroke="#231f20" stroke-width="0.35"/>
<polygon points="457.55,311.5 457.84,312.3 458.69,312.33 458.03,312.85 458.26,313.67 457.55,313.2 456.84,313.67 457.07,312.85 456.41,312.33 457.26,312.3" fill="#231f20" stroke="#231f20" stroke-width="0.35"/>
<text x="489.35" y="384.1" font-size="8.2" text-anchor="middle">+ Anti-</text>
<text x="489.35" y="391.6" font-size="8.2" text-anchor="middle">CD73 mAb</text>
<rect x="476.25" y="370.06" width="8.65" height="2.24" fill="#c8102e"/>
<rect x="484.9" y="328.62" width="8.65" height="43.68" fill="#0f4e85"/>
<rect x="493.55" y="331.42" width="8.65" height="40.88" fill="#3bb54a"/>
<line x1="480.57" y1="370.06" x2="480.57" y2="368.38" stroke="#151515" stroke-width="1"/>
<line x1="479.27" y1="368.38" x2="481.88" y2="368.38" stroke="#151515" stroke-width="1"/>
<line x1="489.22" y1="328.62" x2="489.22" y2="317.98" stroke="#151515" stroke-width="1"/>
<line x1="487.92" y1="317.98" x2="490.52" y2="317.98" stroke="#151515" stroke-width="1"/>
<line x1="497.87" y1="331.42" x2="497.87" y2="317.98" stroke="#151515" stroke-width="1"/>
<line x1="496.57" y1="317.98" x2="499.17" y2="317.98" stroke="#151515" stroke-width="1"/>
<path d="M489.12 316.6 L489.12 315.2 Q489.12 314.2 490.12 314.2 L497.48 314.2 Q498.48 314.2 498.48 315.2 L498.48 316.6" stroke="#151515" stroke-width="1.15" fill="none"/>
<text x="493.8" y="311.1" font-size="7.9" text-anchor="middle" textLength="7.6" lengthAdjust="spacingAndGlyphs">ns</text>
<rect x="379" y="398.75" width="3.8" height="3.8" fill="#c8102e"/>
<text x="385.8" y="403.2" font-size="8.2" textLength="26.6" lengthAdjust="spacingAndGlyphs">MulgG1</text>
<rect x="418.9" y="398.75" width="3.8" height="3.8" fill="#0f4e85"/>
<text x="425.4" y="403.2" font-size="8.2" textLength="26" lengthAdjust="spacingAndGlyphs">CD3/28</text>
<rect x="457" y="398.75" width="3.8" height="3.8" fill="#3bb54a"/>
<text x="463.7" y="403.2" font-size="8.2" textLength="47.7" lengthAdjust="spacingAndGlyphs">CD3/28 + ATP</text>
<text transform="translate(157.9 427.75) scale(1.03 1)" font-size="9.1" font-weight="bold" text-anchor="middle" stroke="#231f20" stroke-width="0.4">Malignant CD4<tspan font-size="7.28" dy="-3.0">+</tspan><tspan dy="3.0" dx="0.6"> T cells</tspan></text>
<line x1="76.9" y1="424.2" x2="76.9" y2="497.7" stroke="#262626" stroke-width="1.35"/>
<line x1="76.4" y1="494.7" x2="238.7" y2="494.7" stroke="#262626" stroke-width="1.35"/>
<line x1="73.9" y1="494.7" x2="76.9" y2="494.7" stroke="#262626" stroke-width="1"/>
<text transform="translate(69.9 497.7) scale(0.84 1)" font-size="8.6" text-anchor="end">0</text>
<line x1="73.9" y1="483.5" x2="76.9" y2="483.5" stroke="#262626" stroke-width="1"/>
<text transform="translate(69.9 486.5) scale(0.84 1)" font-size="8.6" text-anchor="end">20</text>
<line x1="73.9" y1="472.3" x2="76.9" y2="472.3" stroke="#262626" stroke-width="1"/>
<text transform="translate(69.9 475.3) scale(0.84 1)" font-size="8.6" text-anchor="end">40</text>
<line x1="73.9" y1="461.1" x2="76.9" y2="461.1" stroke="#262626" stroke-width="1"/>
<text transform="translate(69.9 464.1) scale(0.84 1)" font-size="8.6" text-anchor="end">60</text>
<line x1="73.9" y1="449.9" x2="76.9" y2="449.9" stroke="#262626" stroke-width="1"/>
<text transform="translate(69.9 452.9) scale(0.84 1)" font-size="8.6" text-anchor="end">80</text>
<line x1="73.9" y1="438.7" x2="76.9" y2="438.7" stroke="#262626" stroke-width="1"/>
<text transform="translate(69.9 441.7) scale(0.84 1)" font-size="8.6" text-anchor="end">100</text>
<line x1="73.9" y1="427.5" x2="76.9" y2="427.5" stroke="#262626" stroke-width="1"/>
<text transform="translate(69.9 430.5) scale(0.84 1)" font-size="8.6" text-anchor="end">120</text>
<line x1="76.9" y1="494.7" x2="76.9" y2="497.1" stroke="#231f20" stroke-width="0.9"/>
<line x1="116.6" y1="494.7" x2="116.6" y2="497.1" stroke="#231f20" stroke-width="0.9"/>
<line x1="156.3" y1="494.7" x2="156.3" y2="497.1" stroke="#231f20" stroke-width="0.9"/>
<line x1="196" y1="494.7" x2="196" y2="497.1" stroke="#231f20" stroke-width="0.9"/>
<line x1="235.7" y1="494.7" x2="235.7" y2="497.1" stroke="#231f20" stroke-width="0.9"/>
<text transform="translate(52.1 459.1) rotate(-90)" font-size="8.6" text-anchor="middle" textLength="74" lengthAdjust="spacingAndGlyphs">% of proliferating cells</text>
<text x="96.75" y="506.5" font-size="8.2" text-anchor="middle">No</text>
<text x="96.75" y="514" font-size="8.2" text-anchor="middle">treatment</text>
<rect x="83.65" y="491.9" width="8.65" height="2.8" fill="#c8102e"/>
<rect x="92.3" y="466.14" width="8.65" height="28.56" fill="#0f4e85"/>
<rect x="100.95" y="486.86" width="8.65" height="7.84" fill="#3bb54a"/>
<line x1="87.98" y1="491.9" x2="87.98" y2="490.78" stroke="#151515" stroke-width="1"/>
<line x1="86.68" y1="490.78" x2="89.28" y2="490.78" stroke="#151515" stroke-width="1"/>
<line x1="96.63" y1="466.14" x2="96.63" y2="452.14" stroke="#151515" stroke-width="1"/>
<line x1="95.33" y1="452.14" x2="97.93" y2="452.14" stroke="#151515" stroke-width="1"/>
<line x1="105.28" y1="486.86" x2="105.28" y2="481.26" stroke="#151515" stroke-width="1"/>
<line x1="103.98" y1="481.26" x2="106.58" y2="481.26" stroke="#151515" stroke-width="1"/>
<path d="M96.53 449.4 L96.53 448 Q96.53 447 97.53 447 L104.88 447 Q105.88 447 105.88 448 L105.88 449.4" stroke="#151515" stroke-width="1.15" fill="none"/>
<polygon points="97.75,442.3 98.04,443.1 98.89,443.13 98.23,443.65 98.46,444.47 97.75,444 97.04,444.47 97.27,443.65 96.61,443.13 97.46,443.1" fill="#231f20" stroke="#231f20" stroke-width="0.35"/>
<polygon points="101.2,442.3 101.49,443.1 102.34,443.13 101.68,443.65 101.91,444.47 101.2,444 100.49,444.47 100.72,443.65 100.06,443.13 100.91,443.1" fill="#231f20" stroke="#231f20" stroke-width="0.35"/>
<polygon points="104.65,442.3 104.94,443.1 105.79,443.13 105.13,443.65 105.36,444.47 104.65,444 103.94,444.47 104.17,443.65 103.51,443.13 104.36,443.1" fill="#231f20" stroke="#231f20" stroke-width="0.35"/>
<text x="136.45" y="506.5" font-size="8.2" text-anchor="middle">+ Istradefy-</text>
<text x="136.45" y="514" font-size="8.2" text-anchor="middle">lline</text>
<rect x="123.35" y="491.9" width="8.65" height="2.8" fill="#c8102e"/>
<rect x="132" y="476.22" width="8.65" height="18.48" fill="#0f4e85"/>
<rect x="140.65" y="482.94" width="8.65" height="11.76" fill="#3bb54a"/>
<line x1="127.68" y1="491.9" x2="127.68" y2="490.78" stroke="#151515" stroke-width="1"/>
<line x1="126.38" y1="490.78" x2="128.98" y2="490.78" stroke="#151515" stroke-width="1"/>
<line x1="136.32" y1="476.22" x2="136.32" y2="466.14" stroke="#151515" stroke-width="1"/>
<line x1="135.02" y1="466.14" x2="137.62" y2="466.14" stroke="#151515" stroke-width="1"/>
<line x1="144.97" y1="482.94" x2="144.97" y2="473.98" stroke="#151515" stroke-width="1"/>
<line x1="143.67" y1="473.98" x2="146.28" y2="473.98" stroke="#151515" stroke-width="1"/>
<path d="M136.23 462.7 L136.23 461.3 Q136.23 460.3 137.23 460.3 L144.58 460.3 Q145.58 460.3 145.58 461.3 L145.58 462.7" stroke="#151515" stroke-width="1.15" fill="none"/>
<polygon points="139.18,455.6 139.47,456.4 140.32,456.43 139.65,456.95 139.88,457.77 139.18,457.3 138.47,457.77 138.7,456.95 138.03,456.43 138.88,456.4" fill="#231f20" stroke="#231f20" stroke-width="0.35"/>
<polygon points="142.63,455.6 142.92,456.4 143.77,456.43 143.1,456.95 143.33,457.77 142.63,457.3 141.92,457.77 142.15,456.95 141.48,456.43 142.33,456.4" fill="#231f20" stroke="#231f20" stroke-width="0.35"/>
<text x="176.15" y="506.5" font-size="8.2" text-anchor="middle">+ A438</text>
<rect x="163.05" y="492.46" width="8.65" height="2.24" fill="#c8102e"/>
<rect x="171.7" y="470.62" width="8.65" height="24.08" fill="#0f4e85"/>
<rect x="180.35" y="484.62" width="8.65" height="10.08" fill="#3bb54a"/>
<line x1="167.38" y1="492.46" x2="167.38" y2="490.22" stroke="#151515" stroke-width="1"/>
<line x1="166.07" y1="490.22" x2="168.68" y2="490.22" stroke="#151515" stroke-width="1"/>
<line x1="176.03" y1="470.62" x2="176.03" y2="452.14" stroke="#151515" stroke-width="1"/>
<line x1="174.72" y1="452.14" x2="177.33" y2="452.14" stroke="#151515" stroke-width="1"/>
<line x1="184.68" y1="484.62" x2="184.68" y2="476.78" stroke="#151515" stroke-width="1"/>
<line x1="183.38" y1="476.78" x2="185.98" y2="476.78" stroke="#151515" stroke-width="1"/>
<path d="M175.93 449.4 L175.93 448 Q175.93 447 176.93 447 L184.28 447 Q185.28 447 185.28 448 L185.28 449.4" stroke="#151515" stroke-width="1.15" fill="none"/>
<polygon points="177.15,442.3 177.44,443.1 178.29,443.13 177.63,443.65 177.86,444.47 177.15,444 176.44,444.47 176.67,443.65 176.01,443.13 176.86,443.1" fill="#231f20" stroke="#231f20" stroke-width="0.35"/>
<polygon points="180.6,442.3 180.89,443.1 181.74,443.13 181.08,443.65 181.31,444.47 180.6,444 179.89,444.47 180.12,443.65 179.46,443.13 180.31,443.1" fill="#231f20" stroke="#231f20" stroke-width="0.35"/>
<polygon points="184.05,442.3 184.34,443.1 185.19,443.13 184.53,443.65 184.76,444.47 184.05,444 183.34,444.47 183.57,443.65 182.91,443.13 183.76,443.1" fill="#231f20" stroke="#231f20" stroke-width="0.35"/>
<text x="215.85" y="506.5" font-size="8.2" text-anchor="middle">+ Anti-</text>
<text x="215.85" y="514" font-size="8.2" text-anchor="middle">CD73 mAb</text>
<rect x="202.75" y="492.46" width="8.65" height="2.24" fill="#c8102e"/>
<rect x="211.4" y="472.3" width="8.65" height="22.4" fill="#0f4e85"/>
<rect x="220.05" y="481.82" width="8.65" height="12.88" fill="#3bb54a"/>
<line x1="207.07" y1="492.46" x2="207.07" y2="491.34" stroke="#151515" stroke-width="1"/>
<line x1="205.77" y1="491.34" x2="208.38" y2="491.34" stroke="#151515" stroke-width="1"/>
<line x1="215.72" y1="472.3" x2="215.72" y2="459.42" stroke="#151515" stroke-width="1"/>
<line x1="214.42" y1="459.42" x2="217.03" y2="459.42" stroke="#151515" stroke-width="1"/>
<line x1="224.38" y1="481.82" x2="224.38" y2="475.66" stroke="#151515" stroke-width="1"/>
<line x1="223.07" y1="475.66" x2="225.68" y2="475.66" stroke="#151515" stroke-width="1"/>
<path d="M215.62 457.2 L215.62 455.8 Q215.62 454.8 216.62 454.8 L223.97 454.8 Q224.97 454.8 224.97 455.8 L224.97 457.2" stroke="#151515" stroke-width="1.15" fill="none"/>
<polygon points="218.58,450.1 218.87,450.9 219.72,450.93 219.05,451.45 219.28,452.27 218.58,451.8 217.87,452.27 218.1,451.45 217.43,450.93 218.28,450.9" fill="#231f20" stroke="#231f20" stroke-width="0.35"/>
<polygon points="222.03,450.1 222.32,450.9 223.17,450.93 222.5,451.45 222.73,452.27 222.03,451.8 221.32,452.27 221.55,451.45 220.88,450.93 221.73,450.9" fill="#231f20" stroke="#231f20" stroke-width="0.35"/>
<rect x="105.5" y="521.15" width="3.8" height="3.8" fill="#c8102e"/>
<text x="112.3" y="525.6" font-size="8.2" textLength="26.6" lengthAdjust="spacingAndGlyphs">MulgG1</text>
<rect x="145.4" y="521.15" width="3.8" height="3.8" fill="#0f4e85"/>
<text x="151.9" y="525.6" font-size="8.2" textLength="26" lengthAdjust="spacingAndGlyphs">CD3/28</text>
<rect x="183.5" y="521.15" width="3.8" height="3.8" fill="#3bb54a"/>
<text x="190.2" y="525.6" font-size="8.2" textLength="47.7" lengthAdjust="spacingAndGlyphs">CD3/28 + ATP</text>
<text x="7.3" y="547.6" font-size="10.8" font-weight="bold" stroke="#231f20" stroke-width="0.45">D</text>
<text x="162.2" y="547.6" font-size="8.8" font-weight="bold" text-anchor="middle" textLength="14.2" lengthAdjust="spacingAndGlyphs" stroke="#231f20" stroke-width="0.4">HD</text>
<line x1="76.6" y1="567.63" x2="76.6" y2="656.1" stroke="#262626" stroke-width="1.4"/>
<line x1="76.1" y1="653.1" x2="246.4" y2="653.1" stroke="#262626" stroke-width="1.4"/>
<line x1="73.4" y1="653.1" x2="76.6" y2="653.1" stroke="#262626" stroke-width="1"/>
<text transform="translate(71.1 656) scale(0.95 1)" font-size="8.2" text-anchor="end">0</text>
<line x1="73.4" y1="643.87" x2="76.6" y2="643.87" stroke="#262626" stroke-width="1"/>
<text transform="translate(71.1 646.77) scale(0.95 1)" font-size="8.2" text-anchor="end">10</text>
<line x1="73.4" y1="634.64" x2="76.6" y2="634.64" stroke="#262626" stroke-width="1"/>
<text transform="translate(71.1 637.54) scale(0.95 1)" font-size="8.2" text-anchor="end">20</text>
<line x1="73.4" y1="625.41" x2="76.6" y2="625.41" stroke="#262626" stroke-width="1"/>
<text transform="translate(71.1 628.31) scale(0.95 1)" font-size="8.2" text-anchor="end">30</text>
<line x1="73.4" y1="616.18" x2="76.6" y2="616.18" stroke="#262626" stroke-width="1"/>
<text transform="translate(71.1 619.08) scale(0.95 1)" font-size="8.2" text-anchor="end">40</text>
<line x1="73.4" y1="606.95" x2="76.6" y2="606.95" stroke="#262626" stroke-width="1"/>
<text transform="translate(71.1 609.85) scale(0.95 1)" font-size="8.2" text-anchor="end">50</text>
<line x1="73.4" y1="597.72" x2="76.6" y2="597.72" stroke="#262626" stroke-width="1"/>
<text transform="translate(71.1 600.62) scale(0.95 1)" font-size="8.2" text-anchor="end">60</text>
<line x1="73.4" y1="588.49" x2="76.6" y2="588.49" stroke="#262626" stroke-width="1"/>
<text transform="translate(71.1 591.39) scale(0.95 1)" font-size="8.2" text-anchor="end">70</text>
<line x1="73.4" y1="579.26" x2="76.6" y2="579.26" stroke="#262626" stroke-width="1"/>
<text transform="translate(71.1 582.16) scale(0.95 1)" font-size="8.2" text-anchor="end">80</text>
<line x1="73.4" y1="570.03" x2="76.6" y2="570.03" stroke="#262626" stroke-width="1"/>
<text transform="translate(71.1 572.93) scale(0.95 1)" font-size="8.2" text-anchor="end">90</text>
<line x1="132.4" y1="653.1" x2="132.4" y2="655.5" stroke="#231f20" stroke-width="0.9"/>
<line x1="188.2" y1="653.1" x2="188.2" y2="655.5" stroke="#231f20" stroke-width="0.9"/>
<line x1="244" y1="653.1" x2="244" y2="655.5" stroke="#231f20" stroke-width="0.9"/>
<text x="104.5" y="665.6" font-size="8.2" text-anchor="middle">No treatment</text>
<rect x="90.3" y="601.78" width="12.5" height="51.32" fill="#0f4e85"/>
<rect x="106.2" y="594.21" width="12.5" height="58.89" fill="#3bb54a"/>
<line x1="96.55" y1="601.78" x2="96.55" y2="590.34" stroke="#151515" stroke-width="1"/>
<line x1="95.25" y1="590.34" x2="97.85" y2="590.34" stroke="#151515" stroke-width="1"/>
<line x1="112.45" y1="594.21" x2="112.45" y2="587.57" stroke="#151515" stroke-width="1"/>
<line x1="111.15" y1="587.57" x2="113.75" y2="587.57" stroke="#151515" stroke-width="1"/>
<text x="160.3" y="665.6" font-size="8.2" text-anchor="middle">+ Istradefylline</text>
<rect x="146.1" y="591.91" width="12.5" height="61.19" fill="#0f4e85"/>
<rect x="162" y="596.34" width="12.5" height="56.76" fill="#3bb54a"/>
<line x1="152.35" y1="591.91" x2="152.35" y2="582.49" stroke="#151515" stroke-width="1"/>
<line x1="151.05" y1="582.49" x2="153.65" y2="582.49" stroke="#151515" stroke-width="1"/>
<line x1="168.25" y1="596.34" x2="168.25" y2="584.34" stroke="#151515" stroke-width="1"/>
<line x1="166.95" y1="584.34" x2="169.55" y2="584.34" stroke="#151515" stroke-width="1"/>
<text x="216.1" y="665.6" font-size="8.2" text-anchor="middle">+ A438</text>
<rect x="201.9" y="599.01" width="12.5" height="54.09" fill="#0f4e85"/>
<rect x="217.8" y="596.34" width="12.5" height="56.76" fill="#3bb54a"/>
<line x1="208.15" y1="599.01" x2="208.15" y2="587.57" stroke="#151515" stroke-width="1"/>
<line x1="206.85" y1="587.57" x2="209.45" y2="587.57" stroke="#151515" stroke-width="1"/>
<line x1="224.05" y1="596.34" x2="224.05" y2="583.88" stroke="#151515" stroke-width="1"/>
<line x1="222.75" y1="583.88" x2="225.35" y2="583.88" stroke="#151515" stroke-width="1"/>
<path d="M96.55 582.1 L96.55 580.9 Q96.55 579.9 97.55 579.9 L111.45 579.9 Q112.45 579.9 112.45 580.9 L112.45 582.1" stroke="#151515" stroke-width="1.15" fill="none"/>
<text x="104.5" y="576.1" font-size="7.4" text-anchor="middle" textLength="7" lengthAdjust="spacingAndGlyphs">ns</text>
<path d="M112.45 573 L112.45 571.8 Q112.45 570.8 113.45 570.8 L167.25 570.8 Q168.25 570.8 168.25 571.8 L168.25 573" stroke="#151515" stroke-width="1.15" fill="none"/>
<text x="140.35" y="567" font-size="7.4" text-anchor="middle" textLength="7" lengthAdjust="spacingAndGlyphs">ns</text>
<path d="M112.45 562.8 L112.45 561.8 Q112.45 560.8 113.45 560.8 L223.05 560.8 Q224.05 560.8 224.05 561.8 L224.05 562.8" stroke="#151515" stroke-width="1.15" fill="none"/>
<text x="168.25" y="557" font-size="7.4" text-anchor="middle" textLength="7" lengthAdjust="spacingAndGlyphs">ns</text>
<text transform="translate(55.6 610.57) rotate(-90)" font-size="8.8" text-anchor="middle" textLength="78.5" lengthAdjust="spacingAndGlyphs">% of 7AAD+ target cells</text>
<rect x="129.8" y="673.6" width="4" height="4" fill="#0f4e85"/>
<text x="137.7" y="677.9" font-size="7.6" textLength="25.1" lengthAdjust="spacingAndGlyphs">No ATP</text>
<rect x="166.6" y="673.6" width="4" height="4" fill="#3bb54a"/>
<text x="174.1" y="677.9" font-size="7.6" textLength="19" lengthAdjust="spacingAndGlyphs">+ ATP</text>
<text x="428" y="547.6" font-size="8.8" font-weight="bold" text-anchor="middle" textLength="11.2" lengthAdjust="spacingAndGlyphs" stroke="#231f20" stroke-width="0.4">SS</text>
<line x1="342.7" y1="567.63" x2="342.7" y2="656.1" stroke="#262626" stroke-width="1.4"/>
<line x1="342.2" y1="653.1" x2="512.5" y2="653.1" stroke="#262626" stroke-width="1.4"/>
<line x1="339.5" y1="653.1" x2="342.7" y2="653.1" stroke="#262626" stroke-width="1"/>
<text transform="translate(337.2 656) scale(0.95 1)" font-size="8.2" text-anchor="end">0</text>
<line x1="339.5" y1="643.87" x2="342.7" y2="643.87" stroke="#262626" stroke-width="1"/>
<text transform="translate(337.2 646.77) scale(0.95 1)" font-size="8.2" text-anchor="end">10</text>
<line x1="339.5" y1="634.64" x2="342.7" y2="634.64" stroke="#262626" stroke-width="1"/>
<text transform="translate(337.2 637.54) scale(0.95 1)" font-size="8.2" text-anchor="end">20</text>
<line x1="339.5" y1="625.41" x2="342.7" y2="625.41" stroke="#262626" stroke-width="1"/>
<text transform="translate(337.2 628.31) scale(0.95 1)" font-size="8.2" text-anchor="end">30</text>
<line x1="339.5" y1="616.18" x2="342.7" y2="616.18" stroke="#262626" stroke-width="1"/>
<text transform="translate(337.2 619.08) scale(0.95 1)" font-size="8.2" text-anchor="end">40</text>
<line x1="339.5" y1="606.95" x2="342.7" y2="606.95" stroke="#262626" stroke-width="1"/>
<text transform="translate(337.2 609.85) scale(0.95 1)" font-size="8.2" text-anchor="end">50</text>
<line x1="339.5" y1="597.72" x2="342.7" y2="597.72" stroke="#262626" stroke-width="1"/>
<text transform="translate(337.2 600.62) scale(0.95 1)" font-size="8.2" text-anchor="end">60</text>
<line x1="339.5" y1="588.49" x2="342.7" y2="588.49" stroke="#262626" stroke-width="1"/>
<text transform="translate(337.2 591.39) scale(0.95 1)" font-size="8.2" text-anchor="end">70</text>
<line x1="339.5" y1="579.26" x2="342.7" y2="579.26" stroke="#262626" stroke-width="1"/>
<text transform="translate(337.2 582.16) scale(0.95 1)" font-size="8.2" text-anchor="end">80</text>
<line x1="339.5" y1="570.03" x2="342.7" y2="570.03" stroke="#262626" stroke-width="1"/>
<text transform="translate(337.2 572.93) scale(0.95 1)" font-size="8.2" text-anchor="end">90</text>
<line x1="398.5" y1="653.1" x2="398.5" y2="655.5" stroke="#231f20" stroke-width="0.9"/>
<line x1="454.3" y1="653.1" x2="454.3" y2="655.5" stroke="#231f20" stroke-width="0.9"/>
<line x1="510.1" y1="653.1" x2="510.1" y2="655.5" stroke="#231f20" stroke-width="0.9"/>
<text x="370.6" y="665.6" font-size="8.2" text-anchor="middle">No treatment</text>
<rect x="356.4" y="608.61" width="12.5" height="44.49" fill="#0f4e85"/>
<rect x="372.3" y="606.03" width="12.5" height="47.07" fill="#3bb54a"/>
<line x1="362.65" y1="608.61" x2="362.65" y2="592.18" stroke="#151515" stroke-width="1"/>
<line x1="361.35" y1="592.18" x2="363.95" y2="592.18" stroke="#151515" stroke-width="1"/>
<line x1="378.55" y1="606.03" x2="378.55" y2="588.49" stroke="#151515" stroke-width="1"/>
<line x1="377.25" y1="588.49" x2="379.85" y2="588.49" stroke="#151515" stroke-width="1"/>
<text x="426.4" y="665.6" font-size="8.2" text-anchor="middle">+ Istradefylline</text>
<rect x="412.2" y="596.8" width="12.5" height="56.3" fill="#0f4e85"/>
<rect x="428.1" y="597.26" width="12.5" height="55.84" fill="#3bb54a"/>
<line x1="418.45" y1="596.8" x2="418.45" y2="590.34" stroke="#151515" stroke-width="1"/>
<line x1="417.15" y1="590.34" x2="419.75" y2="590.34" stroke="#151515" stroke-width="1"/>
<line x1="434.35" y1="597.26" x2="434.35" y2="584.8" stroke="#151515" stroke-width="1"/>
<line x1="433.05" y1="584.8" x2="435.65" y2="584.8" stroke="#151515" stroke-width="1"/>
<text x="482.2" y="665.6" font-size="8.2" text-anchor="middle">+ A438</text>
<rect x="468" y="606.95" width="12.5" height="46.15" fill="#0f4e85"/>
<rect x="483.9" y="605.1" width="12.5" height="48" fill="#3bb54a"/>
<line x1="474.25" y1="606.95" x2="474.25" y2="588.49" stroke="#151515" stroke-width="1"/>
<line x1="472.95" y1="588.49" x2="475.55" y2="588.49" stroke="#151515" stroke-width="1"/>
<line x1="490.15" y1="605.1" x2="490.15" y2="587.57" stroke="#151515" stroke-width="1"/>
<line x1="488.85" y1="587.57" x2="491.45" y2="587.57" stroke="#151515" stroke-width="1"/>
<path d="M362.65 584.4 L362.65 583.2 Q362.65 582.2 363.65 582.2 L377.55 582.2 Q378.55 582.2 378.55 583.2 L378.55 584.4" stroke="#151515" stroke-width="1.15" fill="none"/>
<text x="370.6" y="578.4" font-size="7.4" text-anchor="middle" textLength="7" lengthAdjust="spacingAndGlyphs">ns</text>
<path d="M378.55 576.1 L378.55 574.9 Q378.55 573.9 379.55 573.9 L433.35 573.9 Q434.35 573.9 434.35 574.9 L434.35 576.1" stroke="#151515" stroke-width="1.15" fill="none"/>
<text x="406.45" y="570.1" font-size="7.4" text-anchor="middle" textLength="7" lengthAdjust="spacingAndGlyphs">ns</text>
<path d="M378.55 565.8 L378.55 564.8 Q378.55 563.8 379.55 563.8 L489.15 563.8 Q490.15 563.8 490.15 564.8 L490.15 565.8" stroke="#151515" stroke-width="1.15" fill="none"/>
<text x="434.35" y="560" font-size="7.4" text-anchor="middle" textLength="7" lengthAdjust="spacingAndGlyphs">ns</text>
<text transform="translate(321.6 611.07) rotate(-90) scale(0.85 1)" font-size="8.8" text-anchor="middle" stroke="#231f20" stroke-width="0">% of 7AAD<tspan font-size="5.8" dy="-3.2">+</tspan><tspan dy="3.2"> target cells</tspan></text>
<rect x="395.9" y="673.6" width="4" height="4" fill="#0f4e85"/>
<text x="403.8" y="677.9" font-size="7.6" textLength="25.1" lengthAdjust="spacingAndGlyphs">No ATP</text>
<rect x="432.7" y="673.6" width="4" height="4" fill="#3bb54a"/>
<text x="440.2" y="677.9" font-size="7.6" textLength="19" lengthAdjust="spacingAndGlyphs">+ ATP</text>
<rect x="0.5" y="0.5" width="519" height="684" fill="none" stroke="#000" stroke-width="1"/>
</svg>
</body></html>
